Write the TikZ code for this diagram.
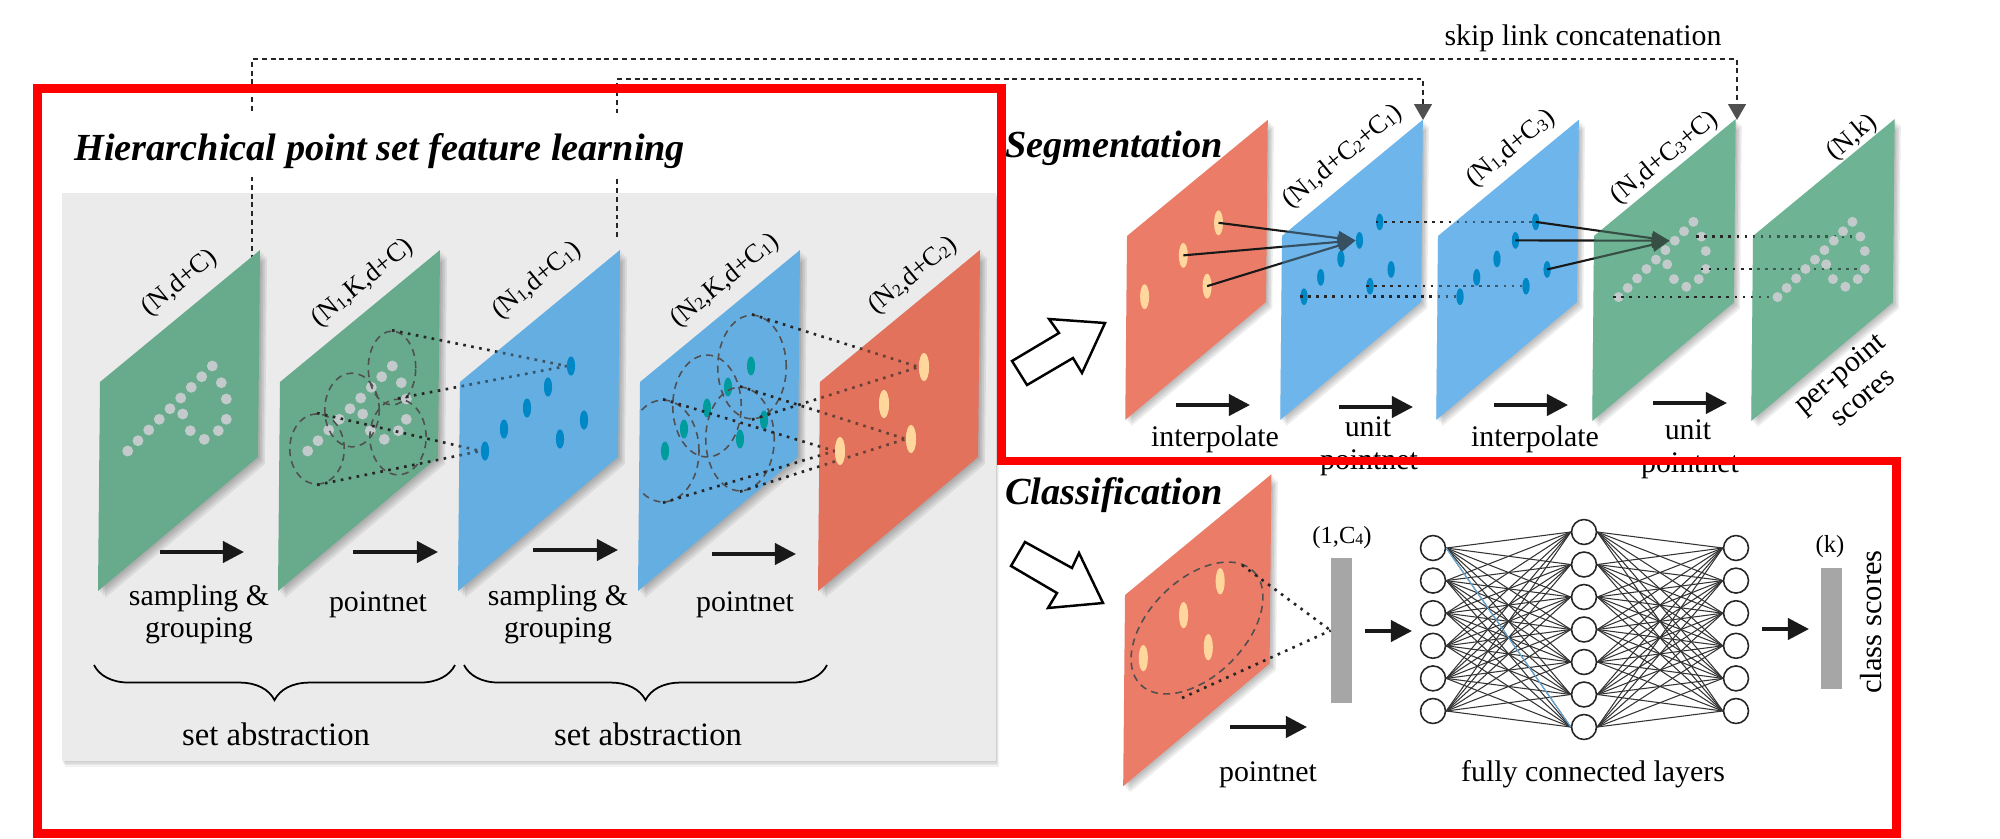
\documentclass[tikz,border=0pt]{standalone}
\usepackage{fontspec}
\setmainfont{Liberation Serif}
\usetikzlibrary{positioning, arrows.meta, shapes.geometric, decorations.pathreplacing}

\definecolor{panelgray}{HTML}{EBEBEB}
\definecolor{planegreen}{HTML}{68AA8C}
\definecolor{planeblue}{HTML}{65AEE2}
\definecolor{planered}{HTML}{E2725C}
\definecolor{lightgreen}{HTML}{6DB394}
\definecolor{lightblue}{HTML}{6DB5EA}
\definecolor{lightred}{HTML}{EB7C68}
\definecolor{cloudgray}{HTML}{C3CACB}
\definecolor{cream}{HTML}{FFD79C}
\definecolor{dotblue}{HTML}{0088C6}
\definecolor{dotteal}{HTML}{009B9C}
\definecolor{ringgray}{HTML}{505050}
\definecolor{bargray}{HTML}{A6A6A6}

\tikzset{
    lab/.style={font=\fontsize{17}{20}\selectfont, anchor=base, inner sep=0pt},
    biglab/.style={font=\fontsize{18.6}{22}\selectfont, anchor=base, inner sep=0pt},
    dimlab/.style={font=\fontsize{15}{18}\selectfont, rotate=39.5, inner sep=0pt},
    headline/.style={font=\fontsize{21.8}{26}\selectfont\bfseries\itshape, anchor=base west, inner sep=0pt},
    clouddot/.style={circle, fill=cloudgray, minimum size=#1, inner sep=0pt},
    bluedot/.style n args={3}{ellipse, fill=#1, minimum width=#2, minimum height=#3, inner sep=0pt},
    ring/.style={ellipse, draw=ringgray, line width=.9pt, dash pattern=on 4pt off 3pt, inner sep=0pt},
    dotlink/.style={line width=1.5pt, draw=black!85, dash pattern=on 1.5pt off 3.1pt},
    solidlink/.style={line width=1.2pt, draw=black!90, -{Triangle[length=10pt,width=8pt]}},
    skiplink/.style={line width=1.3pt, draw=black!85, dash pattern=on 2.8pt off 2.2pt,
        -{Triangle[length=9pt,width=10pt,color=ringgray]}},
    steparrow/.style={line width=2.2pt, draw=black!90, -{Triangle[length=12pt,width=12pt]}},
    hollowarrow/.style={draw=black, fill=white, line width=1.4pt, line join=miter},
    neuron/.style={circle, draw=black!85, fill=white, line width=.9pt, minimum size=14.2pt, inner sep=0pt},
    fcline/.style={line width=.6pt, draw=black!80},
    scorebar/.style={fill=bargray, minimum width=12pt, inner sep=0pt},
}

% one slanted feature plane, corner at (x,y)
\def\planepath{(0,0) -- (160,-132) -- (158,75) -- (-2,209) -- cycle}
\newcommand{\plane}[4]{
    \begin{scope}[shift={(#1,#2)}, scale=#3]
        \foreach \s in {1,2,3,4}
            \fill[black, opacity=.07, xshift=\s pt, yshift=-\s pt] \planepath;
        \fill[#4] \planepath;
    \end{scope}
}
\newcommand{\planeveil}[4]{
    \begin{scope}[shift={(#1,#2)}, scale=#3]
        \fill[#4, fill opacity=.35] \planepath;
    \end{scope}
}
% named dots on a plane: prefix, x, y, scale, style, list
\newcommand{\dotset}[6]{
    \begin{scope}[shift={(#2,#3)}, scale=#4]
        \foreach \dx/\dy [count=\i] in #6
            \node[#5] (#1-\i) at (\dx,\dy) {};
    \end{scope}
}
\def\cloudpts{27.7/69, 38/58.7, 48.7/48, 59.3/37.3, 70/26.7, 80.7/16, 91.3/5.3, 101.7/-5.3,
    112.3/-16, 121.3/.7, 126.3/17, 126.3/37.3, 118.3/48.7, 104.3/57.3, 90.3/48.7, 82.7/32}
\def\bluepts{111/-16, 88/5, 67/26, 44/47, 25/69, 124/38, 100/57}
\def\creampts{104/-15, 64/22, 20/69, 91/57}
\newcommand{\lo}[1]{\raisebox{-.1ex}{\scalebox{.65}{#1}}}

\begin{document}
\begin{tikzpicture}[x=0.02cm, y=-0.02cm]
    \useasboundingbox (0,0) rectangle (2000,838);

    % Panel behind the first row
    \foreach \s in {1,2,3,4}
        \fill[black, opacity=.05, xshift=.4*\s pt, yshift=-.8*\s pt] (62,193) rectangle (996,761);
    \fill[panelgray] (62,193) rectangle (996,761);

    % Skip links
    \coordinate (skipA) at (252,260);
    \coordinate (barA) at (1000,59);
    \coordinate (endA) at (1737,120);
    \coordinate (skipB) at (617,237);
    \coordinate (barB) at (1000,79);
    \coordinate (endB) at (1423,120);
    \draw[skiplink] (skipA) |- (barA) -| (endA);
    \draw[skiplink] (skipB) |- (barB) -| (endB);
    \node[lab] (skiplabel) at (1583,46) {skip link concatenation};

    % Title sits on white, the links stop behind it
    \fill[white] (60,113) rectangle (700,177);
    \node[headline] (hiertitle) at (74,160) {Hierarchical point set feature learning};

    % Hierarchical part: planes
    \plane{100}{382}{1}{planegreen}
    \dotset{cA}{100}{382}{1}{clouddot=6.2pt}{\cloudpts}
    \plane{280}{382}{1}{planegreen}
    \dotset{cB}{280}{382}{1}{clouddot=6.2pt}{\cloudpts}
    \node[ring, minimum width=31pt, minimum height=40pt] (gA) at (317,449) {};
    \node[ring, minimum width=31pt, minimum height=42pt] (gB) at (352,410) {};
    \node[ring, minimum width=27pt, minimum height=42pt] (gC) at (392,368) {};
    \node[ring, minimum width=32pt, minimum height=43pt] (gD) at (398,437) {};

    \plane{460}{382}{1}{planeblue}
    \dotset{bA}{460}{382}{1}{bluedot={dotblue}{4.6pt}{10.8pt}}{\bluepts}
    \draw[dotlink] (gC.north) -- (bA-1.west);
    \draw[dotlink] (gD.north) -- (bA-1.west);
    \draw[dotlink] (gA.north) -- (bA-5.west);
    \draw[dotlink] (gA.south) -- (bA-5.west);
    \planeveil{460}{382}{1}{planeblue}
    \dotset{bA}{460}{382}{1}{bluedot={dotblue}{4.6pt}{10.8pt}}{\bluepts}

    \plane{640}{382}{1}{planeblue}
    \dotset{bB}{640}{382}{1}{bluedot={dotteal}{4.6pt}{10.8pt}}{\bluepts}
    \begin{scope}
        \clip (640,300) rectangle (800,600);
        \node[ring, minimum width=41pt, minimum height=58pt] (rA) at (663,451) {};
    \end{scope}
    \node[ring, minimum width=39pt, minimum height=58pt] (rB) at (707,406) {};
    \node[ring, minimum width=39pt, minimum height=59pt] (rC) at (752,367) {};
    \node[ring, minimum width=39pt, minimum height=59pt] (rD) at (740,439) {};

    \plane{820}{382}{1}{planered}
    \dotset{oA}{820}{382}{1}{bluedot={cream}{5.7pt}{16pt}}{\creampts}
    \draw[dotlink] (rC.north) -- (oA-1.west);
    \draw[dotlink] (rC.south) -- (oA-1.west);
    \draw[dotlink] (rA.north) -- (oA-3.west);
    \draw[dotlink] (rA.south) -- (oA-3.west);
    \draw[dotlink] (rD.north) -- (oA-4.west);
    \draw[dotlink] (rD.south) -- (oA-4.west);
    \planeveil{820}{382}{1}{planered}
    \dotset{oA}{820}{382}{1}{bluedot={cream}{5.7pt}{16pt}}{\creampts}

    % Hierarchical part: labels
    \node[dimlab] (dimA) at (180,283) {(N,d+C)};
    \node[dimlab] (dimB) at (363,283) {(N\lo{1},K,d+C)};
    \node[dimlab] (dimC) at (537,281) {(N\lo{1},d+C\lo{1})};
    \node[dimlab] (dimD) at (725,281) {(N\lo{2},K,d+C\lo{1})};
    \node[dimlab] (dimE) at (913,276) {(N\lo{2},d+C\lo{2})};

    \node[lab] (samplA) at (199,605) {sampling \&};
    \node[lab] (groupA) at (199,637) {grouping};
    \node[lab] (pointA) at (378,611) {pointnet};
    \node[lab] (samplB) at (558,605) {sampling \&};
    \node[lab] (groupB) at (558,637) {grouping};
    \node[lab] (pointB) at (745,611) {pointnet};

    % Braces
    \coordinate (braceAl) at (94,665);
    \coordinate (braceAr) at (455,665);
    \coordinate (braceBl) at (464,665);
    \coordinate (braceBr) at (827,665);
    \draw[line width=1pt, decorate, decoration={brace, mirror, amplitude=20pt}] (braceAl) -- (braceAr);
    \draw[line width=1pt, decorate, decoration={brace, mirror, amplitude=20pt}] (braceBl) -- (braceBr);
    \node[biglab] (setA) at (276,745) {set abstraction};
    \node[biglab] (setB) at (648,745) {set abstraction};

    % Segmentation
    \node[headline] (segtitle) at (1005,157) {Segmentation};
    \plane{1127}{236}{.88}{lightred}
    \dotset{oB}{1127}{236}{.88}{bluedot={cream}{5.1pt}{14.2pt}}{\creampts}

    \plane{1282}{236}{.88}{lightblue}
    \dotset{bC}{1282}{236}{.88}{bluedot={dotblue}{4pt}{9.4pt}}{\bluepts}
    \draw[solidlink] (oB-1.center) -- (bC-2.west);
    \draw[solidlink] (oB-2.center) -- (bC-2.west);
    \draw[solidlink] (oB-4.center) -- (bC-2.west);
    \planeveil{1282}{236}{.88}{lightblue}
    \dotset{bC}{1282}{236}{.88}{bluedot={dotblue}{4pt}{9.4pt}}{\bluepts}

    \plane{1438}{236}{.88}{lightblue}
    \dotset{bD}{1438}{236}{.88}{bluedot={dotblue}{4pt}{9.4pt}}{\bluepts}
    \draw[dotlink] (bC-1.west) -- (bD-1.west);
    \draw[dotlink] (bC-7.west) -- (bD-7.west);
    \draw[dotlink] (bC-5.west) -- (bD-5.west);
    \planeveil{1438}{236}{.88}{lightblue}
    \dotset{bD}{1438}{236}{.88}{bluedot={dotblue}{4pt}{9.4pt}}{\bluepts}

    \plane{1594}{236}{.885}{lightgreen}
    \dotset{cC}{1594}{236}{.885}{clouddot=5.6pt}{\cloudpts}
    \draw[solidlink] (bD-1.center) -- (cC-7.west);
    \draw[solidlink] (bD-2.center) -- (cC-7.west);
    \draw[solidlink] (bD-6.center) -- (cC-7.west);
    \planeveil{1594}{236}{.885}{lightgreen}
    \dotset{cC}{1594}{236}{.885}{clouddot=5.6pt}{\cloudpts}

    \plane{1753}{236}{.885}{lightgreen}
    \dotset{cD}{1753}{236}{.885}{clouddot=5.6pt}{\cloudpts}
    \draw[dotlink] (cC-10.west) -- (cD-10.west);
    \draw[dotlink] (cC-12.west) -- (cD-12.west);
    \draw[dotlink] (cC-1.west) -- (cD-1.west);
    \planeveil{1753}{236}{.885}{lightgreen}
    \dotset{cD}{1753}{236}{.885}{clouddot=5.6pt}{\cloudpts}

    \node[dimlab] (dimF) at (1343,157) {(N\lo{1},d+C\lo{2}+C\lo{1})};
    \node[dimlab] (dimG) at (1511,149) {(N\lo{1},d+C\lo{3})};
    \node[dimlab] (dimH) at (1665,158) {(N,d+C\lo{3}+C)};
    \node[dimlab] (dimI) at (1852,138) {(N,k)};
    \node[lab, rotate=39.5] (perpoint) at (1845,380) {per-point};
    \node[lab, rotate=39.5] (scoresA) at (1868,404) {scores};

    \node[lab] (interpA) at (1215,446) {interpolate};
    \node[lab] (unitA) at (1368,436) {unit};
    \node[lab] (pointC) at (1369,469) {pointnet};
    \node[lab] (interpB) at (1535,446) {interpolate};
    \node[lab] (unitB) at (1688,439) {unit};
    \node[lab] (pointD) at (1690,472) {pointnet};

    \draw[hollowarrow] (1049,319) -- (1105,323) -- (1082,373) -- (1073,358) -- (1027,385) -- (1012,361) -- (1059,333) -- cycle;

    % Classification
    \node[headline] (clstitle) at (1005,504) {Classification};
    \plane{1125}{595}{.915}{lightred}
    \dotset{oC}{1125}{595}{.915}{bluedot={cream}{5.2pt}{15pt}}{\creampts}
    \draw[ring] (1197,628) ellipse [x radius=80, y radius=48, rotate=45];
    \coordinate (ringtop) at (1242,565);
    \coordinate (ringbot) at (1182,698);
    \node[scorebar, minimum height=82.5pt] (barC) at (1341.5,630.5) {};
    \node[font=\fontsize{14}{17}\selectfont, anchor=base, inner sep=0pt] (barClabel) at (1342,543) {(1,C\lo{4})};
    \draw[dotlink] (ringtop) -- (barC.west);
    \draw[dotlink] (ringbot) -- (barC.west);
    \node[lab] (pointE) at (1268,781) {pointnet};

    \draw[hollowarrow] (1025,542) -- (1072,568) -- (1079,553) -- (1103,603) -- (1048,608) -- (1057,593) -- (1011,566) -- cycle;

    % Fully connected layers
    \foreach \i in {1,...,6} {
        \node[neuron] (fa\i) at (1433,{548+32.6*(\i-1)}) {};
        \node[neuron] (fc\i) at (1736,{548+32.6*(\i-1)}) {};
    }
    \foreach \j in {1,...,7}
        \node[neuron] (fb\j) at (1584,{532+32.5*(\j-1)}) {};
    \foreach \i in {1,...,6}
        \foreach \j in {1,...,7} {
            \draw[fcline] (fa\i.east) -- (fb\j.west);
            \draw[fcline] (fb\j.east) -- (fc\i.west);
        }
    \draw[line width=.6pt, planeblue] (fa1.east) -- (fb7.west);
    \node[lab] (fclabel) at (1593,781) {fully connected layers};

    \node[scorebar, minimum height=69pt] (barK) at (1831.5,628.5) {};
    \node[font=\fontsize{14}{17}\selectfont, anchor=base, inner sep=0pt] (barKlabel) at (1830,552) {(k)};
    \node[font=\fontsize{17.4}{20}\selectfont, rotate=90, inner sep=0pt] (clsscores) at (1871,622) {class scores};

    % Step arrows
    \foreach \nm/\xa/\xb/\yy in {sa/160/244/552, sb/353/438/552, sc/533/618/550, sd/712/796/554,
        se/1176/1250/405, sf/1339/1413/407, sg/1494/1568/405, sh/1653/1727/403,
        si/1230/1307/727, sj/1365/1412/631, sk/1762/1809/629} {
        \coordinate (\nm-a) at (\xa,\yy);
        \coordinate (\nm-b) at (\xb,\yy);
        \draw[steparrow] (\nm-a) -- (\nm-b);
    }

    % Red frame on top of everything
    \draw[red, line width=5.1pt, line join=miter] (37.5,88.5) -- (1001.5,88.5) -- (1001.5,461) -- (1896.5,461) -- (1896.5,833.5) -- (37.5,833.5) -- cycle;
\end{tikzpicture}
\end{document}
